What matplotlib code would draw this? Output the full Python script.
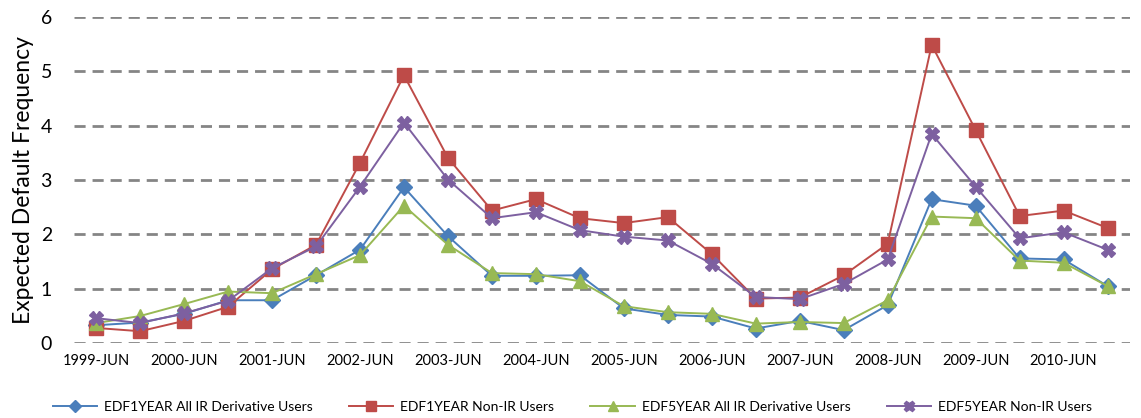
import matplotlib.pyplot as plt

plt.rcParams['font.family'] = ['Lato', 'DejaVu Sans']

# half-year periods 1999-JUN .. 2010-DEC
periods = []
for yr in range(1999, 2011):
    periods += ['%d-JUN' % yr, '%d-DEC' % yr]

edf1_ir = [0.33, 0.38, 0.54, 0.79, 0.79, 1.25, 1.72, 2.87, 1.97, 1.24, 1.24, 1.25,
           0.64, 0.52, 0.49, 0.27, 0.41, 0.24, 0.70, 2.65, 2.53, 1.56, 1.54, 1.05]
edf1_nonir = [0.28, 0.22, 0.41, 0.67, 1.36, 1.81, 3.32, 4.93, 3.41, 2.44, 2.65, 2.30,
              2.21, 2.32, 1.64, 0.82, 0.84, 1.25, 1.83, 5.49, 3.92, 2.34, 2.44, 2.12]
edf5_ir = [0.37, 0.50, 0.72, 0.95, 0.92, 1.27, 1.62, 2.53, 1.81, 1.29, 1.27, 1.14,
           0.68, 0.57, 0.54, 0.36, 0.39, 0.37, 0.79, 2.33, 2.30, 1.52, 1.48, 1.05]
edf5_nonir = [0.46, 0.37, 0.55, 0.78, 1.38, 1.78, 2.88, 4.06, 3.01, 2.30, 2.41, 2.08,
              1.96, 1.89, 1.46, 0.85, 0.81, 1.09, 1.54, 3.85, 2.88, 1.93, 2.04, 1.72]

series = [
    ('EDF1YEAR All IR Derivative Users', edf1_ir, '#4A7EBB', 'D', 8.5),
    ('EDF1YEAR Non-IR Users', edf1_nonir, '#BE4B48', 's', 9.5),
    ('EDF5YEAR All IR Derivative Users', edf5_ir, '#98B954', '^', 10.5),
    ('EDF5YEAR Non-IR Users', edf5_nonir, '#7D60A0', 'X', 10),
]

fig = plt.figure(figsize=(11.41, 4.18), dpi=100)
ax = fig.add_axes([0.065, 0.179, 0.925, 0.780])

x = list(range(len(periods)))
for name, vals, col, mk, ms in series:
    ax.plot(x, vals, color=col, lw=1.4, marker=mk, ms=ms, mec=col, mfc=col,
            label=name, zorder=3)

ax.set_xlim(-0.5, len(periods) - 0.5)
ax.set_ylim(0, 6)
ax.set_yticks(range(0, 7))
ax.set_xticks(x[::2])
ax.set_xticklabels(periods[::2], fontsize=10.5)
ax.tick_params(axis='y', labelsize=14, length=0, pad=16)
ax.tick_params(axis='x', length=0, pad=8)
ax.yaxis.grid(True, color='#858585', lw=2, ls=(0, (4, 2.5)))
ax.set_axisbelow(True)
for s in ax.spines.values():
    s.set_visible(False)
ax.set_ylabel('Expected Default Frequency', fontsize=16.5, labelpad=5)

ax.legend(loc='center', bbox_to_anchor=(0.472, -0.195), ncol=4, frameon=False,
          fontsize=10, handlelength=3.2, handletextpad=0.5, columnspacing=2.6,
          markerscale=0.75)

fig.savefig('out.png')
